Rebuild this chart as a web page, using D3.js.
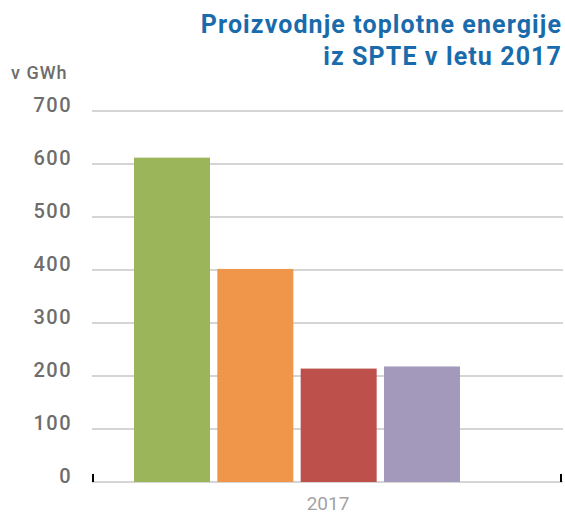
<!DOCTYPE html>
<html>
<head>
<meta charset="utf-8">
<script src="https://cdn.jsdelivr.net/npm/d3@7"></script>
<style>
  body { margin: 0; background: #fff; }
  svg { display: block; font-family: Roboto, "DejaVu Sans", sans-serif; }
</style>
</head>
<body>
<div id="chart"></div>
<script>
const years = ["2017"];
const series = ["s1", "s2", "s3", "s4"];
const values = [612, 402, 214, 218];
const colors = ["#9bb55b", "#f0964a", "#be504c", "#a399ba"];
const yTicks = [0, 100, 200, 300, 400, 500, 600, 700];
const titleLines = ["Proizvodnje toplotne energije", "iz SPTE v letu 2017"];
const unitLabel = "v GWh";

const width = 565;
const height = 515;

const svg = d3.select("#chart")
  .append("svg")
  .attr("width", width)
  .attr("height", height);

const x = d3.scaleBand()
  .domain(years)
  .range([93, 561]);

// bars sit left of center inside the year band
const xInner = d3.scaleBand()
  .domain(series)
  .range([41, 367])
  .paddingInner(0.088);

const y = d3.scaleLinear()
  .domain([0, 700])
  .range([482, 111]);

// gridlines
svg.append("g")
  .selectAll("line")
  .data(yTicks)
  .enter()
  .append("line")
  .attr("x1", 92)
  .attr("x2", 563)
  .attr("y1", d => y(d))
  .attr("y2", d => y(d))
  .attr("stroke", "#ababab")
  .attr("stroke-width", 1.2);

// y labels
svg.append("g")
  .selectAll("text")
  .data(yTicks)
  .enter()
  .append("text")
  .attr("x", 72)
  .attr("y", d => y(d) + 1)
  .attr("text-anchor", "end")
  .attr("fill", "#6d6d6d")
  .attr("font-size", "20px")
  .attr("font-weight", 500)
  .attr("letter-spacing", "1.5px")
  .text(d => d);

// bars
const group = svg.append("g")
  .attr("transform", "translate(" + x("2017") + ",0)");

group.selectAll("rect")
  .data(values)
  .enter()
  .append("rect")
  .attr("x", (d, i) => xInner(series[i]))
  .attr("y", d => y(d))
  .attr("width", xInner.bandwidth())
  .attr("height", d => y(0) - y(d))
  .attr("fill", (d, i) => colors[i]);

// black tick marks at band edges
svg.append("g")
  .selectAll("line")
  .data([x("2017"), x("2017") + x.bandwidth()])
  .enter()
  .append("line")
  .attr("x1", d => d)
  .attr("x2", d => d)
  .attr("y1", y(0) - 8)
  .attr("y2", y(0))
  .attr("stroke", "#000")
  .attr("stroke-width", 2);

// x label
svg.append("text")
  .attr("x", x("2017") + x.bandwidth() / 2 + 1)
  .attr("y", 510)
  .attr("text-anchor", "middle")
  .attr("fill", "#a3a3a3")
  .attr("font-size", "19px")
  .text(years[0]);

// unit label
svg.append("text")
  .attr("x", 11)
  .attr("y", 79)
  .attr("fill", "#6d6d6d")
  .attr("font-size", "18px")
  .attr("font-weight", 500)
  .attr("letter-spacing", "1px")
  .text(unitLabel);

// title
svg.append("g")
  .selectAll("text")
  .data(titleLines)
  .enter()
  .append("text")
  .attr("x", 562)
  .attr("y", (d, i) => 33 + i * 32)
  .attr("text-anchor", "end")
  .attr("fill", "#1a6bab")
  .attr("font-size", "25px")
  .attr("font-weight", 700)
  .attr("letter-spacing", "1.1px")
  .text(d => d);
</script>
</body>
</html>
